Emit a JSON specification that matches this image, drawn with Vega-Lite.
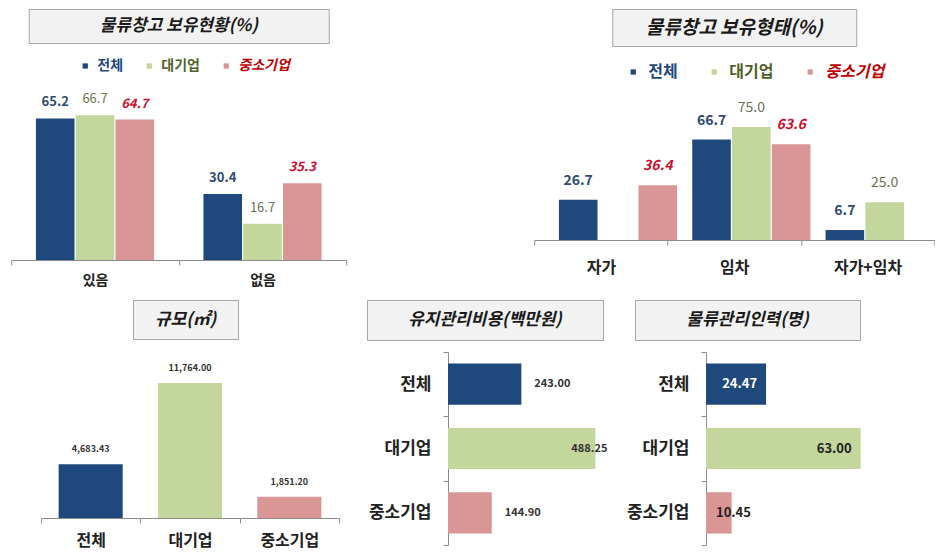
{
  "$schema": "https://vega.github.io/schema/vega-lite/v6.json",
  "background": "white",
  "padding": {"left": 10, "top": 8, "right": 0, "bottom": 4},
  "config": {"view": {"stroke": null}, "font": "Noto Sans CJK KR"},
  "spacing": 12,
  "resolve": {"scale": {"color": "independent"}, "legend": {"color": "independent"}},
  "vconcat": [
    {
      "spacing": 186,
      "resolve": {"scale": {"color": "independent"}, "legend": {"color": "independent"}},
      "hconcat": [
        {
          "center": true,
          "spacing": 15,
          "resolve": {"scale": {"color": "independent"}, "legend": {"color": "independent"}},
          "vconcat": [
            {
              "width": 300, "height": 34,
              "view": {"fill": "#f2f2f2", "stroke": "#a6a6a6"},
              "data": {"values": [{"t": "물류창고 보유현황(%)"}]},
              "mark": {"type": "text", "fontSize": 17, "fontWeight": "bold", "fontStyle": "italic", "color": "#1a1a1a", "baseline": "middle"},
              "encoding": {
                "x": {"field": "t", "type": "nominal", "axis": null},
                "y": {"field": "t", "type": "nominal", "axis": null},
                "text": {"field": "t"}
              }
            },
            {
              "width": 335, "height": 178,
              "data": {"values": [
                {"c": "있음", "s": "전체", "v": 65.2},
                {"c": "있음", "s": "대기업", "v": 66.7},
                {"c": "있음", "s": "중소기업", "v": 64.7},
                {"c": "없음", "s": "전체", "v": 30.4},
                {"c": "없음", "s": "대기업", "v": 16.7},
                {"c": "없음", "s": "중소기업", "v": 35.3}
              ]},
              "encoding": {
                "x": {"field": "c", "type": "nominal", "sort": ["있음", "없음"],
                  "scale": {"paddingInner": 0, "paddingOuter": 0},
                  "axis": {"title": null, "labelAngle": 0, "labelFontSize": 14, "labelFontWeight": "bold", "labelColor": "#222", "tickBand": "extent", "tickSize": 5, "labelPadding": 8, "domainColor": "#8c8c8c", "tickColor": "#8c8c8c", "grid": false}},
                "xOffset": {"field": "s", "type": "nominal", "scale": {"domain": ["전체", "대기업", "중소기업"], "paddingInner": 0.03, "paddingOuter": 0.62}},
                "y": {"field": "v", "type": "quantitative", "scale": {"domain": [0, 82]}, "axis": null}
              },
              "layer": [
                {
                  "mark": {"type": "bar"},
                  "encoding": {
                    "color": {"field": "s", "type": "nominal",
                      "scale": {"domain": ["전체", "대기업", "중소기업"], "range": ["#1F497D", "#C3D69B", "#D99694"]},
                      "legend": {"orient": "none", "legendX": 67, "legendY": -23, "direction": "horizontal", "title": null,
                        "symbolType": "square", "symbolSize": 28, "symbolStrokeWidth": 0, "labelFontSize": 14, "labelFontWeight": "bold",
                        "columnPadding": 19, "labelOffset": 5,
                        "encode": {"labels": {"update": {
                          "fill": {"signal": "datum.value === '전체' ? '#1F497D' : datum.value === '대기업' ? '#4F6228' : '#C00000'"},
                          "fontStyle": {"signal": "datum.value === '중소기업' ? 'italic' : 'normal'"}
                        }}}}
                    }
                  }
                },
                {
                  "transform": [{"filter": "datum.s === '전체'"}],
                  "mark": {"type": "text", "baseline": "alphabetic", "dy": -12, "fontSize": 13, "fontWeight": "bold", "color": "#2F4B74"},
                  "encoding": {"text": {"field": "v", "format": ".1f"}}
                },
                {
                  "transform": [{"filter": "datum.s === '대기업'"}],
                  "mark": {"type": "text", "baseline": "alphabetic", "dy": -12, "fontSize": 13, "color": "#6B7450"},
                  "encoding": {"text": {"field": "v", "format": ".1f"}}
                },
                {
                  "transform": [{"filter": "datum.s === '중소기업'"}],
                  "mark": {"type": "text", "baseline": "alphabetic", "dy": -12, "fontSize": 13, "fontWeight": "bold", "fontStyle": "italic", "color": "#C8102E"},
                  "encoding": {"text": {"field": "v", "format": ".1f"}}
                }
              ]
            }
          ]
        },
        {
          "center": true,
          "spacing": 17,
          "resolve": {"scale": {"color": "independent"}, "legend": {"color": "independent"}},
          "vconcat": [
            {
              "width": 244, "height": 37,
              "view": {"fill": "#f2f2f2", "stroke": "#a6a6a6"},
              "data": {"values": [{"t": "물류창고 보유형태(%)"}]},
              "mark": {"type": "text", "fontSize": 19, "fontWeight": "bold", "fontStyle": "italic", "color": "#1a1a1a", "baseline": "middle"},
              "encoding": {
                "x": {"field": "t", "type": "nominal", "axis": null},
                "y": {"field": "t", "type": "nominal", "axis": null},
                "text": {"field": "t"}
              }
            },
            {
              "width": 400, "height": 143,
              "data": {"values": [
                {"c": "자가", "s": "전체", "v": 26.7},
                {"c": "자가", "s": "중소기업", "v": 36.4},
                {"c": "임차", "s": "전체", "v": 66.7},
                {"c": "임차", "s": "대기업", "v": 75.0},
                {"c": "임차", "s": "중소기업", "v": 63.6},
                {"c": "자가+임차", "s": "전체", "v": 6.7},
                {"c": "자가+임차", "s": "대기업", "v": 25.0}
              ]},
              "encoding": {
                "x": {"field": "c", "type": "nominal", "sort": ["자가", "임차", "자가+임차"],
                  "scale": {"paddingInner": 0, "paddingOuter": 0},
                  "axis": {"title": null, "labelAngle": 0, "labelFontSize": 16, "labelFontWeight": "bold", "labelColor": "#222", "tickBand": "extent", "tickSize": 5, "labelPadding": 14, "domainColor": "#8c8c8c", "tickColor": "#8c8c8c", "grid": false}},
                "xOffset": {"field": "s", "type": "nominal", "scale": {"domain": ["전체", "대기업", "중소기업"], "paddingInner": 0.05, "paddingOuter": 0.635}},
                "y": {"field": "v", "type": "quantitative", "scale": {"domain": [0, 95]}, "axis": null}
              },
              "layer": [
                {
                  "mark": {"type": "bar"},
                  "encoding": {
                    "color": {"field": "s", "type": "nominal",
                      "scale": {"domain": ["전체", "대기업", "중소기업"], "range": ["#1F497D", "#C3D69B", "#D99694"]},
                      "legend": {"orient": "none", "legendX": 91, "legendY": -33, "direction": "horizontal", "title": null,
                        "symbolType": "square", "symbolSize": 28, "symbolStrokeWidth": 0, "labelFontSize": 16, "labelFontWeight": "bold",
                        "columnPadding": 28, "labelOffset": 7,
                        "encode": {"labels": {"update": {
                          "fill": {"signal": "datum.value === '전체' ? '#1F497D' : datum.value === '대기업' ? '#4F6228' : '#C00000'"},
                          "fontStyle": {"signal": "datum.value === '중소기업' ? 'italic' : 'normal'"}
                        }}}}
                    }
                  }
                },
                {
                  "transform": [{"filter": "datum.s === '전체'"}],
                  "mark": {"type": "text", "baseline": "alphabetic", "dy": -15, "fontSize": 14, "fontWeight": "bold", "color": "#2F4B74"},
                  "encoding": {"text": {"field": "v", "format": ".1f"}}
                },
                {
                  "transform": [{"filter": "datum.s === '대기업'"}],
                  "mark": {"type": "text", "baseline": "alphabetic", "dy": -15, "fontSize": 14, "color": "#6B7450"},
                  "encoding": {"text": {"field": "v", "format": ".1f"}}
                },
                {
                  "transform": [{"filter": "datum.s === '중소기업'"}],
                  "mark": {"type": "text", "baseline": "alphabetic", "dy": -15, "fontSize": 14, "fontWeight": "bold", "fontStyle": "italic", "color": "#C8102E"},
                  "encoding": {"text": {"field": "v", "format": ".1f"}}
                }
              ]
            }
          ]
        }
      ]
    },
    {
      "spacing": 2,
      "vconcat": [
        {
          "spacing": 10,
          "hconcat": [
            {
              "width": 111, "height": 10,
              "view": {"fill": "white"},
              "data": {"values": []},
              "mark": "text"
            },
            {
              "spacing": 127,
              "hconcat": [
                {
                  "width": 105, "height": 39,
                  "view": {"fill": "#f2f2f2", "stroke": "#a6a6a6"},
                  "data": {"values": [{"t": "규모(㎡)"}]},
                  "mark": {"type": "text", "fontSize": 17, "fontWeight": "bold", "fontStyle": "italic", "color": "#1a1a1a", "baseline": "middle"},
                  "encoding": {
                    "x": {"field": "t", "type": "nominal", "axis": null},
                    "y": {"field": "t", "type": "nominal", "axis": null},
                    "text": {"field": "t"}
                  }
                },
                {
                  "spacing": 30,
                  "hconcat": [
                    {
                      "width": 236, "height": 40,
                      "view": {"fill": "#f2f2f2", "stroke": "#a6a6a6"},
                      "data": {"values": [{"t": "유지관리비용(백만원)"}]},
                      "mark": {"type": "text", "fontSize": 17, "fontWeight": "bold", "fontStyle": "italic", "color": "#1a1a1a", "baseline": "middle"},
                      "encoding": {
                        "x": {"field": "t", "type": "nominal", "axis": null},
                        "y": {"field": "t", "type": "nominal", "axis": null},
                        "text": {"field": "t"}
                      }
                    },
                    {
                      "width": 225, "height": 40,
                      "view": {"fill": "#f2f2f2", "stroke": "#a6a6a6"},
                      "data": {"values": [{"t": "물류관리인력(명)"}]},
                      "mark": {"type": "text", "fontSize": 17, "fontWeight": "bold", "fontStyle": "italic", "color": "#1a1a1a", "baseline": "middle"},
                      "encoding": {
                        "x": {"field": "t", "type": "nominal", "axis": null},
                        "y": {"field": "t", "type": "nominal", "axis": null},
                        "text": {"field": "t"}
                      }
                    }
                  ]
                }
              ]
            }
          ]
        },
        {
          "spacing": 28,
          "hconcat": [
            {
              "width": 1, "height": 10,
              "view": {"fill": "white"},
              "data": {"values": []},
              "mark": "text"
            },
            {
              "width": 298, "height": 166,
              "data": {"values": [
                {"c": "전체", "v": 4683.43},
                {"c": "대기업", "v": 11764.00},
                {"c": "중소기업", "v": 1851.20}
              ]},
              "encoding": {
                "x": {"field": "c", "type": "nominal", "sort": ["전체", "대기업", "중소기업"],
                  "scale": {"paddingInner": 0, "paddingOuter": 0},
                  "axis": {"title": null, "labelAngle": 0, "labelFontSize": 16, "labelFontWeight": "bold", "labelColor": "#222", "tickBand": "extent", "tickSize": 5, "labelPadding": 9, "domainColor": "#8c8c8c", "tickColor": "#8c8c8c", "grid": false}},
                "y": {"field": "v", "type": "quantitative", "scale": {"domain": [0, 14470]}, "axis": null}
              },
              "layer": [
                {
                  "mark": {"type": "bar", "width": {"band": 0.645}},
                  "encoding": {
                    "color": {"field": "c", "type": "nominal", "legend": null,
                      "scale": {"domain": ["전체", "대기업", "중소기업"], "range": ["#1F497D", "#C3D69B", "#D99694"]}}
                  }
                },
                {
                  "mark": {"type": "text", "baseline": "alphabetic", "dy": -12, "fontSize": 9, "fontWeight": "bold", "color": "#333"},
                  "encoding": {"text": {"field": "v", "format": ",.2f"}}
                }
              ]
            },
            {
              "spacing": 15,
              "hconcat": [
                {
                  "width": 163, "height": 193,
                  "data": {"values": [
                    {"c": "전체", "v": 243.00},
                    {"c": "대기업", "v": 488.25},
                    {"c": "중소기업", "v": 144.90}
                  ]},
                  "encoding": {
                    "y": {"field": "c", "type": "nominal", "sort": ["전체", "대기업", "중소기업"],
                      "scale": {"paddingInner": 0, "paddingOuter": 0},
                      "axis": {"title": null, "labelFontSize": 17, "labelFontWeight": "bold", "labelColor": "#222", "tickBand": "extent", "tickSize": 5, "labelPadding": 12, "domainColor": "#8c8c8c", "tickColor": "#8c8c8c", "grid": false}},
                    "x": {"field": "v", "type": "quantitative", "scale": {"domain": [0, 540]}, "axis": null}
                  },
                  "layer": [
                    {
                      "mark": {"type": "bar", "height": {"band": 0.64}},
                      "encoding": {
                        "color": {"field": "c", "type": "nominal", "legend": null,
                          "scale": {"domain": ["전체", "대기업", "중소기업"], "range": ["#1F497D", "#C3D69B", "#D99694"]}}
                      }
                    },
                    {
                      "transform": [{"filter": "datum.c !== '대기업'"}],
                      "mark": {"type": "text", "align": "left", "dx": 13, "fontSize": 11, "fontWeight": "bold", "color": "#333"},
                      "encoding": {"text": {"field": "v", "format": ".2f"}}
                    },
                    {
                      "transform": [{"filter": "datum.c === '대기업'"}],
                      "mark": {"type": "text", "align": "right", "dx": 12, "fontSize": 11, "fontWeight": "bold", "color": "#333"},
                      "encoding": {"text": {"field": "v", "format": ".2f"}}
                    }
                  ]
                },
                {
                  "width": 162, "height": 193,
                  "data": {"values": [
                    {"c": "전체", "v": 24.47},
                    {"c": "대기업", "v": 63.00},
                    {"c": "중소기업", "v": 10.45}
                  ]},
                  "encoding": {
                    "y": {"field": "c", "type": "nominal", "sort": ["전체", "대기업", "중소기업"],
                      "scale": {"paddingInner": 0, "paddingOuter": 0},
                      "axis": {"title": null, "labelFontSize": 17, "labelFontWeight": "bold", "labelColor": "#222", "tickBand": "extent", "tickSize": 5, "labelPadding": 12, "domainColor": "#8c8c8c", "tickColor": "#8c8c8c", "grid": false}},
                    "x": {"field": "v", "type": "quantitative", "scale": {"domain": [0, 66]}, "axis": null}
                  },
                  "layer": [
                    {
                      "mark": {"type": "bar", "height": {"band": 0.64}},
                      "encoding": {
                        "color": {"field": "c", "type": "nominal", "legend": null,
                          "scale": {"domain": ["전체", "대기업", "중소기업"], "range": ["#1F497D", "#C3D69B", "#D99694"]}}
                      }
                    },
                    {
                      "transform": [{"filter": "datum.c !== '중소기업'"}],
                      "mark": {"type": "text", "align": "right", "dx": -9, "fontSize": 13, "fontWeight": "bold"},
                      "encoding": {
                        "text": {"field": "v", "format": ".2f"},
                        "color": {"condition": {"test": "datum.c === '전체'", "value": "white"}, "value": "#222"}
                      }
                    },
                    {
                      "transform": [{"filter": "datum.c === '중소기업'"}],
                      "mark": {"type": "text", "align": "left", "dx": 10, "fontSize": 13, "fontWeight": "bold", "color": "#222"},
                      "encoding": {
                        "x": {"datum": 0, "type": "quantitative"},
                        "text": {"field": "v", "format": ".2f"}
                      }
                    }
                  ]
                }
              ]
            }
          ]
        }
      ]
    }
  ]
}
